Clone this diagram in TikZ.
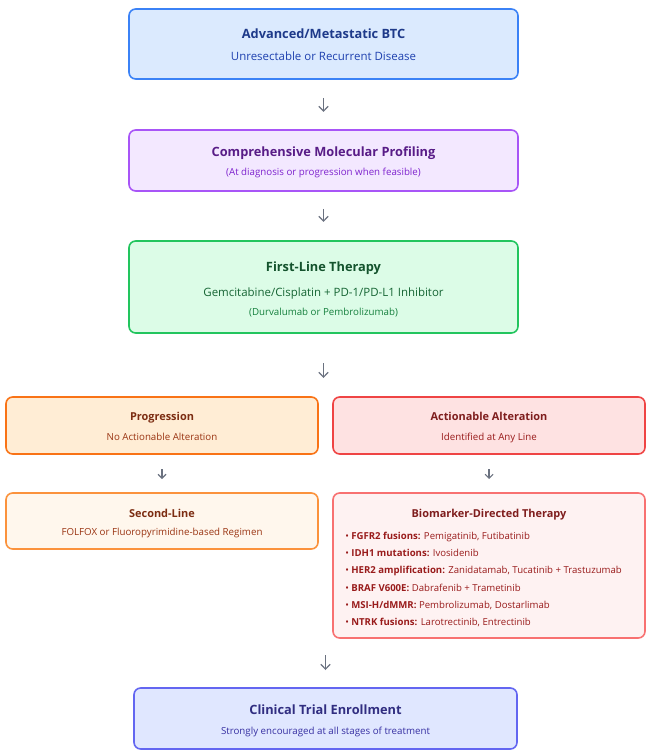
\documentclass[tikz,border=0pt]{standalone}
\usepackage{fontspec}
\setmainfont{Open Sans}
\usetikzlibrary{arrows.meta}

% palette
\definecolor{blueFill}{HTML}{DBEAFE}\definecolor{blueLine}{HTML}{3B82F6}
\definecolor{blueTitle}{HTML}{1E3A8A}\definecolor{blueText}{HTML}{1E40AF}
\definecolor{purpFill}{HTML}{F3E8FF}\definecolor{purpLine}{HTML}{A855F7}
\definecolor{purpTitle}{HTML}{581C87}\definecolor{purpText}{HTML}{7E22CE}
\definecolor{grnFill}{HTML}{DCFCE7}\definecolor{grnLine}{HTML}{22C55E}
\definecolor{grnTitle}{HTML}{14532D}\definecolor{grnText}{HTML}{166534}\definecolor{grnSub}{HTML}{15803D}
\definecolor{orFill}{HTML}{FFEDD5}\definecolor{orLine}{HTML}{F97316}
\definecolor{orTitle}{HTML}{7C2D12}\definecolor{orText}{HTML}{9A3412}
\definecolor{orFillB}{HTML}{FFF7ED}\definecolor{orLineB}{HTML}{FB923C}
\definecolor{redFill}{HTML}{FEE2E2}\definecolor{redLine}{HTML}{EF4444}
\definecolor{redTitle}{HTML}{7F1D1D}\definecolor{redText}{HTML}{991B1B}
\definecolor{redFillB}{HTML}{FEF2F2}\definecolor{redLineB}{HTML}{F87171}
\definecolor{indFill}{HTML}{E0E7FF}\definecolor{indLine}{HTML}{6366F1}
\definecolor{indTitle}{HTML}{312E81}\definecolor{indText}{HTML}{3730A3}
\definecolor{arrowGray}{HTML}{6B7280}

\tikzset{
  stage/.style={draw, rounded corners=5pt, line width=1.2pt, inner sep=0pt, outer sep=0pt},
  txt/.style={anchor=mid, inner sep=0pt},
  ttl/.style={txt, font=\bfseries\fontsize{9.6pt}{11pt}\selectfont},
  ttlsm/.style={txt, font=\bfseries\fontsize{8.2pt}{10pt}\selectfont},
  sub/.style={txt, font=\fontsize{8.6pt}{10pt}\selectfont},
  subsm/.style={txt, font=\fontsize{7.3pt}{9pt}\selectfont},
  bul/.style={anchor=mid west, inner sep=0pt, font=\fontsize{7.2pt}{9pt}\selectfont, text=redText},
  flow/.style={draw=arrowGray, line width=0.9pt, -{Straight Barb[length=3.6pt,width=7pt]}},
  flowsm/.style={draw=arrowGray, line width=0.8pt, -{Straight Barb[length=3pt,width=6pt]}},
}

\begin{document}
\begin{tikzpicture}[x=0.75pt, y=-0.75pt]
\useasboundingbox (0,0) rectangle (649,752);

% main column
\node[stage, fill=blueFill, draw=blueLine, minimum width=291.75pt, minimum height=52.5pt] (b1) at (323.5,44) {};
\node[ttl, text=blueTitle] (b1t) at (323.5,35) {Advanced/Metastatic BTC};
\node[sub, text=blueText] (b1s) at (323.5,57) {Unresectable or Recurrent Disease};

\node[stage, fill=purpFill, draw=purpLine, minimum width=291.75pt, minimum height=45.75pt] (b2) at (323.5,160.5) {};
\node[ttl, text=purpTitle] (b2t) at (323.5,153) {Comprehensive Molecular Profiling};
\node[subsm, text=purpText] (b2s) at (323.5,172) {(At diagnosis or progression when feasible)};

\node[stage, fill=grnFill, draw=grnLine, minimum width=291.75pt, minimum height=69pt] (b3) at (323.5,287) {};
\node[ttl, text=grnTitle] (b3t) at (323.5,268) {First-Line Therapy};
\node[sub, text=grnText] (b3s) at (323.5,293) {Gemcitabine/Cisplatin + PD-1/PD-L1 Inhibitor};
\node[subsm, text=grnSub] (b3n) at (323.5,312) {(Durvalumab or Pembrolizumab)};

\coordinate (split) at (323.5,397);

% left branch
\node[stage, fill=orFill, draw=orLine, minimum width=234pt, minimum height=42.75pt] (b4) at (162,425.5) {};
\node[ttlsm, text=orTitle] (b4t) at (162,417) {Progression};
\node[subsm, text=orText] (b4s) at (162,437) {No Actionable Alteration};

\node[stage, fill=orFillB, draw=orLineB, minimum width=234pt, minimum height=42pt] (b6) at (162,521) {};
\node[ttlsm, text=orTitle] (b6t) at (162,514) {Second-Line};
\node[subsm, text=orText] (b6s) at (162,532) {FOLFOX or Fluoropyrimidine-based Regimen};

% right branch
\node[stage, fill=redFill, draw=redLine, minimum width=234pt, minimum height=42.75pt] (b5) at (489,425.5) {};
\node[ttlsm, text=redTitle] (b5t) at (489,417) {Actionable Alteration};
\node[subsm, text=redText] (b5s) at (489,437) {Identified at Any Line};

\node[stage, fill=redFillB, draw=redLineB, minimum width=234pt, minimum height=108.75pt] (b7) at (489,565.5) {};
\node[ttlsm, text=redTitle] (b7t) at (489,514) {Biomarker-Directed Therapy};
\node[bul] (m1) at (345,536) {• \textbf{FGFR2 fusions:} Pemigatinib, Futibatinib};
\node[bul] (m2) at (345,553) {• \textbf{IDH1 mutations:} Ivosidenib};
\node[bul] (m3) at (345,570) {• \textbf{HER2 amplification:} Zanidatamab, Tucatinib + Trastuzumab};
\node[bul] (m4) at (345,588) {• \textbf{BRAF V600E:} Dabrafenib + Trametinib};
\node[bul] (m5) at (345,605) {• \textbf{MSI-H/dMMR:} Pembrolizumab, Dostarlimab};
\node[bul] (m6) at (345,622) {• \textbf{NTRK fusions:} Larotrectinib, Entrectinib};

\coordinate (merge) at (325.5,638);

% trial enrollment
\node[stage, fill=indFill, draw=indLine, minimum width=287.25pt, minimum height=45.75pt] (b8) at (325.5,718.5) {};
\node[ttl, text=indTitle] (b8t) at (325.5,711) {Clinical Trial Enrollment};
\node[subsm, text=indText] (b8s) at (325.5,731) {Strongly encouraged at all stages of treatment};

% connectors
\draw[flow, shorten <=14.25pt, shorten >=13.5pt] (b1.south) -- (b2.north);
\draw[flow, shorten <=13.5pt, shorten >=14.25pt] (b2.south) -- (b3.north);
\draw[flow, shorten <=22.5pt, shorten >=14.25pt] (b3.south) -- (split);
\draw[flowsm, shorten <=11.25pt, shorten >=10.5pt] (b4.south) -- (b6.north);
\draw[flowsm, shorten <=11.25pt, shorten >=10.5pt] (b5.south) -- (b7.north);
\draw[flow, shorten <=12.75pt, shorten >=13.5pt] (merge) -- (b8.north);
\end{tikzpicture}
\end{document}
